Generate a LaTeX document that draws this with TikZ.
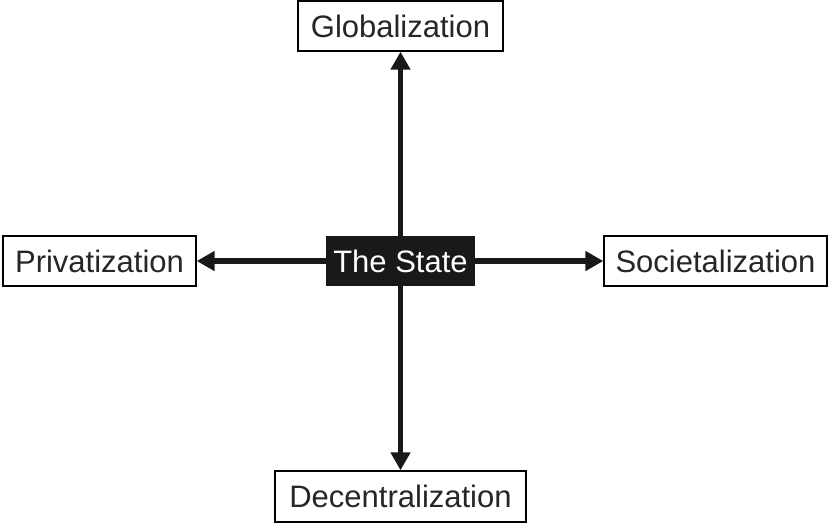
\documentclass[tikz,border=0pt]{standalone}
\usepackage{fontspec}
\setmainfont{Liberation Sans}
\usetikzlibrary{arrows.meta}
\begin{document}
\begin{tikzpicture}[x=1pt,y=-1pt,
  box/.style={draw=black,line width=1.3pt,fill=white,inner sep=0pt,minimum height=50pt,font=\fontsize{31}{34}\selectfont,text=black!85},
  statebox/.style={fill=black!90,text=white,inner sep=0pt,minimum width=149pt,minimum height=50pt,font=\fontsize{31}{34}\selectfont},
  arr/.style={line width=5.5pt,-{Triangle[length=18pt,width=19pt]},black!90}]
\useasboundingbox (0,0) rectangle (829,523);
\node[statebox] (state) at (400.5,261) {The State};
\node[box,minimum width=205pt] (glob) at (400.5,26) {Globalization};
\node[box,minimum width=193pt] (priv) at (99.5,261) {Privatization};
\node[box,minimum width=223pt] (soc) at (715.5,261) {Societalization};
\node[box,minimum width=251pt,minimum height=51pt] (dec) at (400.5,496.5) {Decentralization};
\draw[arr] (state.north) -- (glob.south);
\draw[arr] (state.south) -- (dec.north);
\draw[arr] (state.west) -- (priv.east);
\draw[arr] (state.east) -- (soc.west);
\end{tikzpicture}
\end{document}
